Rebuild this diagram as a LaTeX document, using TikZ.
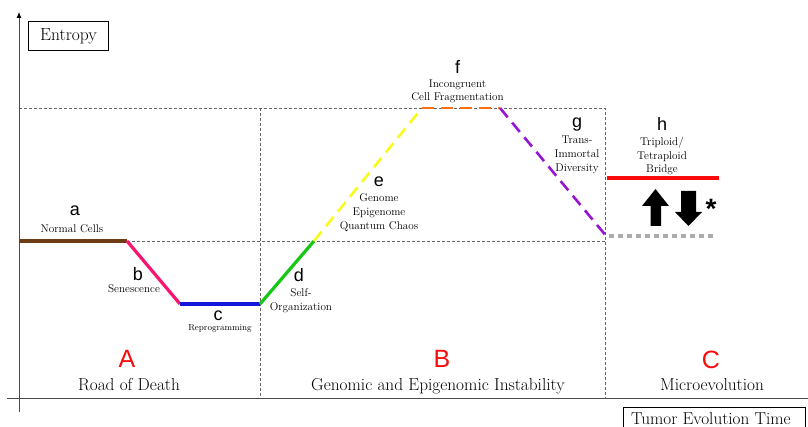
\documentclass[tikz,border=0pt]{standalone}
\usepackage{fontspec}
\newfontfamily\lsans{Liberation Sans}
\usetikzlibrary{arrows.meta}
\definecolor{brownc}{RGB}{110,60,20}
\definecolor{pinkc}{RGB}{250,20,110}
\definecolor{bluec}{RGB}{20,20,220}
\definecolor{greenc}{RGB}{20,200,20}
\definecolor{yellowc}{RGB}{250,250,30}
\definecolor{orangec}{RGB}{250,110,20}
\definecolor{purplec}{RGB}{150,20,210}
\definecolor{redc}{RGB}{250,10,10}
\begin{document}
\begin{tikzpicture}[x=1pt,y=-1pt,
  grid/.style={densely dashed,gray!80!black,line width=0.5pt},
  seg/.style={line width=3.2pt},
  dseg/.style={line width=2.6pt,dash pattern=on 12pt off 7pt},
  letter/.style={font=\lsans\fontsize{18}{18}\selectfont,inner sep=0pt},
  desc/.style={font=\fontsize{11.2}{13.7}\selectfont,align=center,inner sep=0pt},
  big/.style={font=\lsans\fontsize{25}{25}\selectfont,text=redc,inner sep=0pt},
  phase/.style={font=\fontsize{17.3}{17.3}\selectfont,inner sep=0pt,anchor=base}]
\useasboundingbox (0,0) rectangle (808,427);
% coordinates
\coordinate (yb) at (19,412);
\coordinate (yt) at (19,12);
\coordinate (xl) at (7,398);
\coordinate (xr) at (808,398);
\coordinate (p1) at (19,241);
\coordinate (p2) at (127,241);
\coordinate (p3) at (180,304);
\coordinate (p4) at (260,304);
\coordinate (p5) at (314,241);
\coordinate (p6) at (422,108);
\coordinate (p7) at (500,108);
\coordinate (p8) at (607,237);
\coordinate (t1) at (19,108);
\coordinate (t2) at (605,108);
\coordinate (m2) at (605,241);
\coordinate (v1t) at (260,108);
\coordinate (v1b) at (260,398);
\coordinate (v2b) at (605,398);
\coordinate (h1) at (607,178);
\coordinate (h2) at (719,178);
\coordinate (g1) at (609,236);
\coordinate (g2) at (716,236);
% grid
\draw[grid] (t1) -- (t2) -- (v2b);
\draw[grid] (p2) -- (m2);
\draw[grid] (v1t) -- (v1b);
% axes
\draw[gray!60!black,line width=0.8pt,-{Latex[length=6pt,width=5pt,black]}] (yb) -- (yt);
\draw[gray!60!black,line width=0.8pt] (xl) -- (xr);
% curve
\draw[seg,brownc] (p1) -- (p2);
\draw[seg,pinkc] (p2) -- (p3);
\draw[seg,bluec] (p3) -- (p4);
\draw[seg,greenc] (p4) -- (p5);
\draw[dseg,yellowc] (p5) -- (p6);
\draw[dseg,orangec] (p6) -- (p7);
\draw[dseg,purplec] (p7) -- (p8);
\draw[line width=3.5pt,redc] (h1) -- (h2);
\draw[line width=4pt,gray!65,dash pattern=on 5pt off 4pt] (g1) -- (g2);
% block arrows
\fill[black] (650.5,226) -- (650.5,206) -- (642,206) -- (655.5,189) -- (669,206) -- (661,206) -- (661,226) -- cycle;
\fill[black] (681,191) -- (681,212) -- (675,212) -- (688.5,226) -- (702,212) -- (696,212) -- (696,191) -- cycle;
\node[font=\lsans\bfseries\fontsize{28}{28}\selectfont,inner sep=0pt] (ast) at (711,209) {*};
% boxes
\node[draw,line width=1pt,minimum width=80pt,minimum height=29pt,inner sep=0pt,font=\fontsize{17.5}{17.5}\selectfont] (entropy) at (68.5,36.5) {Entropy};
\draw[line width=1pt] (623,440) -- (623,407) -- (805,407) -- (805,440);
\node[font=\fontsize{17.2}{17.2}\selectfont,inner sep=0pt,anchor=base west] (time) at (631,424) {Tumor Evolution Time};
% labels
\node[letter] (la) at (75,211) {a};
\node[desc] (da) at (72,229) {Normal Cells};
\node[letter] (lb) at (138,274) {b};
\node[desc] (db) at (134,289) {Senescence};
\node[letter] (lc) at (218,316) {c};
\node[desc,font=\fontsize{8.8}{9}\selectfont] (dc) at (220,328) {Reprogramming};
\node[letter] (ld) at (299,275) {d};
\node[desc] (dd) at (301,300.5) {Self-\\Organization};
\node[letter] (le) at (379,182) {e};
\node[desc] (de) at (379,212.5) {Genome\\Epigenome\\Quantum Chaos};
\node[letter] (lf) at (457.5,66.5) {f};
\node[desc] (df) at (457.5,91.3) {Incongruent\\Cell Fragmentation};
\node[letter] (lg) at (577,125) {g};
\node[desc] (dg) at (577,155) {Trans-\\Immortal\\Diversity};
\node[letter] (lh) at (662,123.5) {h};
\node[desc] (dh) at (662,156) {Triploid/\\Tetraploid\\Bridge};
% phases
\node[big] (A) at (127,359) {A};
\node[phase] (RA) at (129,390) {Road of Death};
\node[big] (B) at (442,359) {B};
\node[phase] (RB) at (438,390) {Genomic and Epigenomic Instability};
\node[big] (C) at (711,360) {C};
\node[phase] (RC) at (712,390) {Microevolution};
\end{tikzpicture}
\end{document}
